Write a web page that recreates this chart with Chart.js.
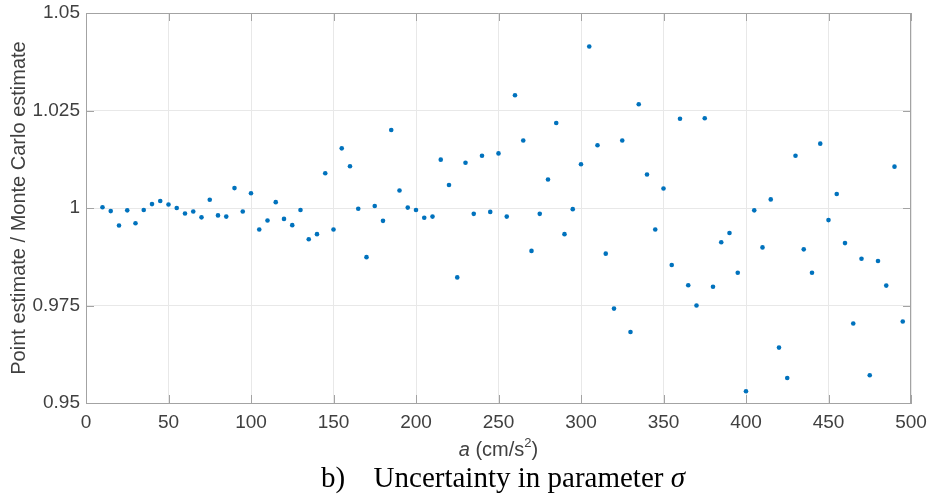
<!DOCTYPE html>
<html>
<head>
<meta charset="utf-8">
<script src="https://cdn.jsdelivr.net/npm/chart.js@4.4.0/dist/chart.umd.min.js"></script>
<style>
  html, body { margin: 0; padding: 0; background: #ffffff; }
  #wrap { width: 930px; height: 501px; }
</style>
</head>
<body>
<div id="wrap"><canvas id="grafico" width="930" height="501"></canvas></div>
<script>
// Acceleration values (x) and ratio point estimate / Monte Carlo (y)
var accel = [10, 15, 20, 25, 30, 35, 40, 45, 50, 55, 60, 65, 70, 75, 80, 85, 90, 95, 100,
    105, 110, 115, 120, 125, 130, 135, 140, 145, 150, 155, 160, 165, 170, 175, 180, 185, 190, 195, 200,
    205, 210, 215, 220, 225, 230, 235, 240, 245, 250, 255, 260, 265, 270, 275, 280, 285, 290, 295, 300,
    305, 310, 315, 320, 325, 330, 335, 340, 345, 350, 355, 360, 365, 370, 375, 380, 385, 390, 395, 400,
    405, 410, 415, 420, 425, 430, 435, 440, 445, 450, 455, 460, 465, 470, 475, 480, 485, 490, 495];

var ratio = [1.0002, 0.9992, 0.9955, 0.9994, 0.9961, 0.9995, 1.0010, 1.0018, 1.0009, 1.0000, 0.9986, 0.9991, 0.9976, 1.0021, 0.9981, 0.9978, 1.0051, 0.9991, 1.0038,
    0.9945, 0.9968, 1.0015, 0.9972, 0.9956, 0.9995, 0.9920, 0.9933, 1.0089, 0.9945, 1.0153, 1.0107, 0.9998, 0.9874, 1.0005, 0.9967, 1.0200, 1.0045, 1.0001, 0.9995,
    0.9975, 0.9978, 1.0124, 1.0059, 0.9822, 1.0116, 0.9985, 1.0134, 0.9990, 1.0140, 0.9978, 1.0289, 1.0173, 0.9890, 0.9985, 1.0073, 1.0218, 0.9933, 0.9997, 1.0112,
    1.0414, 1.0161, 0.9883, 0.9742, 1.0173, 0.9682, 1.0266, 1.0086, 0.9945, 1.0050, 0.9854, 1.0229, 0.9802, 0.9750, 1.0230, 0.9798, 0.9912, 0.9936, 0.9834, 0.9530,
    0.9994, 0.9899, 1.0022, 0.9642, 0.9564, 1.0134, 0.9894, 0.9834, 1.0165, 0.9969, 1.0036, 0.9910, 0.9704, 0.9870, 0.9571, 0.9864, 0.9801, 1.0106, 0.9709];

// Tick values and labels
var xTicks = [0, 50, 100, 150, 200, 250, 300, 350, 400, 450, 500];
var yTicks = [0.95, 0.975, 1, 1.025, 1.05];
var yLabels = ['0.95', '0.975', '1', '1.025', '1.05'];

// Texts
var yTitle = 'Point estimate / Monte Carlo estimate';
var captionLabel = 'b)';
var caption = 'Uncertainty in parameter ';
var captionSymbol = 'σ';

// Colours
var corPontos = '#0072BD';
var corEixo = '#a3a3a3';
var corGrade = '#e8e8e8';
var corTexto = '#404040';
var fonte = '"Liberation Sans", Arial, sans-serif';
var fonteSerif = '"Liberation Serif", "Times New Roman", serif';

// Plugin that draws the box, the inward ticks and the titles
var extras = {
    id: 'extras',
    afterDraw: function(chart) {
        var ctx = chart.ctx;
        var area = chart.chartArea;
        var sx = chart.scales.x;
        var sy = chart.scales.y;
        var tl = 8;

        ctx.save();
        ctx.strokeStyle = corEixo;
        ctx.lineWidth = 1;
        ctx.beginPath();
        ctx.moveTo(area.left, area.top + 0.5);
        ctx.lineTo(area.right, area.top + 0.5);
        ctx.moveTo(area.right - 0.5, area.top);
        ctx.lineTo(area.right - 0.5, area.bottom);
        xTicks.forEach(function(v) {
            var px = Math.round(sx.getPixelForValue(v)) + 0.5;
            ctx.moveTo(px, area.bottom);
            ctx.lineTo(px, area.bottom - tl);
            ctx.moveTo(px, area.top);
            ctx.lineTo(px, area.top + tl);
        });
        yTicks.forEach(function(v) {
            var py = Math.round(sy.getPixelForValue(v)) + 0.5;
            ctx.moveTo(area.left, py);
            ctx.lineTo(area.left + tl, py);
            ctx.moveTo(area.right, py);
            ctx.lineTo(area.right - tl, py);
        });
        ctx.stroke();

        // y title
        ctx.fillStyle = corTexto;
        ctx.font = '20px ' + fonte;
        ctx.textAlign = 'center';
        ctx.textBaseline = 'middle';
        ctx.save();
        ctx.translate(19, (area.top + area.bottom) / 2);
        ctx.rotate(-Math.PI / 2);
        ctx.fillText(yTitle, 0, 0);
        ctx.restore();

        // x title: italic a, (cm/s^2)
        ctx.textAlign = 'left';
        ctx.textBaseline = 'alphabetic';
        var base = 456;
        var p1 = 'a';
        var p2 = ' (cm/s';
        var p3 = '2';
        var p4 = ')';
        ctx.font = 'italic 20px ' + fonte;
        var w1 = ctx.measureText(p1).width;
        ctx.font = '20px ' + fonte;
        var w2 = ctx.measureText(p2).width;
        var w4 = ctx.measureText(p4).width;
        ctx.font = '13px ' + fonte;
        var w3 = ctx.measureText(p3).width;
        var cx = (area.left + area.right) / 2;
        var x0 = cx - (w1 + w2 + w3 + w4) / 2;
        ctx.font = 'italic 20px ' + fonte;
        ctx.fillText(p1, x0, base);
        ctx.font = '20px ' + fonte;
        ctx.fillText(p2, x0 + w1, base);
        ctx.font = '13px ' + fonte;
        ctx.fillText(p3, x0 + w1 + w2, base - 9);
        ctx.font = '20px ' + fonte;
        ctx.fillText(p4, x0 + w1 + w2 + w3, base);

        // caption: "b)" on the left, the rest ending at the right edge
        ctx.fillStyle = '#000000';
        ctx.font = '29px ' + fonteSerif;
        ctx.fillText(captionLabel, 321, 487);
        var wc = ctx.measureText(caption).width;
        ctx.font = 'italic 29px ' + fonteSerif;
        var ws = ctx.measureText(captionSymbol).width;
        var c0 = 685 - wc - ws;
        ctx.font = '29px ' + fonteSerif;
        ctx.fillText(caption, c0, 487);
        ctx.font = 'italic 29px ' + fonteSerif;
        ctx.fillText(captionSymbol, c0 + wc, 487);
        ctx.restore();
    }
};

function criarGrafico() {
    var contexto = document.getElementById('grafico').getContext('2d');

    var pontos = accel.map(function(a, i) {
        return { x: a, y: ratio[i] };
    });

    var configuracao = {
        type: 'scatter',
        data: {
            datasets: [{
                data: pontos,
                backgroundColor: corPontos,
                borderWidth: 0,
                pointRadius: 2.3,
                pointHoverRadius: 2.3
            }]
        },
        options: {
            responsive: false,
            animation: false,
            devicePixelRatio: 1,
            layout: { padding: { top: 13, right: 19, left: 0, bottom: 0 } },
            plugins: {
                legend: { display: false },
                tooltip: { enabled: false }
            },
            scales: {
                x: {
                    type: 'linear',
                    min: 0,
                    max: 500,
                    afterBuildTicks: function(scale) {
                        scale.ticks = xTicks.map(function(v) { return { value: v }; });
                    },
                    afterFit: function(scale) {
                        scale.height = 98;
                        scale.paddingLeft = 0;
                        scale.paddingRight = 0;
                    },
                    grid: { color: corGrade, drawTicks: false },
                    border: { display: true, color: corEixo },
                    ticks: {
                        color: corTexto,
                        padding: 8,
                        maxRotation: 0,
                        font: { family: fonte, size: 19 },
                        callback: function(v) { return String(v); }
                    }
                },
                y: {
                    type: 'linear',
                    min: 0.95,
                    max: 1.05,
                    afterBuildTicks: function(scale) {
                        scale.ticks = yTicks.map(function(v) { return { value: v }; });
                    },
                    afterFit: function(scale) {
                        scale.width = 86;
                        scale.paddingTop = 0;
                        scale.paddingBottom = 0;
                    },
                    grid: { color: corGrade, drawTicks: false },
                    border: { display: true, color: corEixo },
                    ticks: {
                        color: corTexto,
                        padding: 6,
                        font: { family: fonte, size: 19 },
                        callback: function(v, i) { return yLabels[i]; }
                    }
                }
            }
        },
        plugins: [extras]
    };

    new Chart(contexto, configuracao);
}

criarGrafico();
</script>
</body>
</html>
